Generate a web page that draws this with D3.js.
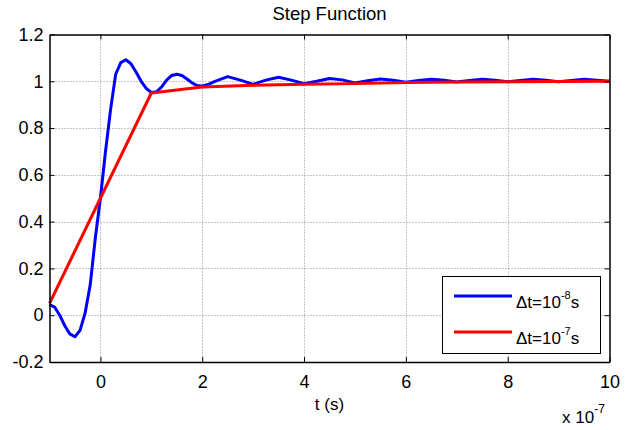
<!DOCTYPE html>
<html>
<head>
<meta charset="utf-8">
<script src="https://cdn.jsdelivr.net/npm/d3@7"></script>
<style>
  body { margin: 0; background: #fff; }
  #chart { width: 641px; height: 430px; }
  text { font-family: "Liberation Sans", Arial, sans-serif; fill: #000; }
</style>
</head>
<body>
<div id="chart"></div>
<script>
// time in units of 1e-7 s
var blueT = [-1.0, -0.9, -0.8, -0.7, -0.6, -0.5, -0.4, -0.3, -0.2, -0.1,
             0.0, 0.1, 0.2, 0.3, 0.4, 0.5, 0.6, 0.7, 0.8, 0.9,
             1.0, 1.1, 1.2, 1.3, 1.4, 1.5, 1.6, 1.7, 1.8, 1.9,
             2.0, 2.1, 2.25, 2.5, 2.75, 3.0, 3.25, 3.5, 3.75, 4.0,
             4.25, 4.5, 4.75, 5.0, 5.25, 5.5, 5.75, 6.0, 6.25, 6.5,
             6.75, 7.0, 7.25, 7.5, 7.75, 8.0, 8.25, 8.5, 8.75, 9.0,
             9.25, 9.5, 9.75, 10.0];
var blueV = [0.045, 0.035, 0.0, -0.045, -0.08, -0.092, -0.065, 0.01, 0.13, 0.33,
             0.50, 0.70, 0.88, 1.03, 1.08, 1.092, 1.075, 1.04, 1.0, 0.97,
             0.952, 0.955, 0.975, 1.005, 1.025, 1.03, 1.025, 1.01, 0.993, 0.982,
             0.98, 0.985, 1.0, 1.02, 1.005, 0.987, 1.005, 1.017, 1.005, 0.99,
             1.0, 1.012, 1.006, 0.993, 1.002, 1.01, 1.004, 0.996, 1.003, 1.009,
             1.004, 0.997, 1.003, 1.009, 1.004, 0.998, 1.003, 1.009, 1.004, 0.998,
             1.003, 1.009, 1.004, 1.0];
var redT = [-1, 0, 1, 2, 3, 4, 5, 6, 7, 8, 9, 10];
var redV = [0.05, 0.5, 0.95, 0.976, 0.983, 0.987, 0.99, 0.995, 0.997, 0.998, 0.999, 1.0];

var xTicks = [0, 2, 4, 6, 8, 10];
var xTickLabels = ["0", "2", "4", "6", "8", "10"];
var yTicks = [-0.2, 0, 0.2, 0.4, 0.6, 0.8, 1, 1.2];
var yTickLabels = ["-0.2", "0", "0.2", "0.4", "0.6", "0.8", "1", "1.2"];

var seriesNames = ["8", "7"];   // exponents in legend
var seriesColors = ["#0000ff", "#ff0000"];

function init() {
    var container = d3.select("#chart");
    var w = 641, h = 430;
    var svg = container.append("svg").attr("width", w).attr("height", h);

    var left = 49.5, right = 609.5, top = 34.5, bottom = 362;

    var x = d3.scaleLinear().domain([-1, 10]).range([left, right]);
    var y = d3.scaleLinear().domain([-0.2, 1.2]).range([bottom, top]);

    // grid
    var grid = svg.append("g")
        .attr("stroke", "#8c8c8c")
        .attr("stroke-width", 1)
        .attr("stroke-dasharray", "1,2");
    grid.selectAll(".gx").data(xTicks.slice(0, -1)).enter().append("line")
        .attr("x1", d => Math.round(x(d)) + 0.5).attr("x2", d => Math.round(x(d)) + 0.5)
        .attr("y1", top).attr("y2", bottom);
    grid.selectAll(".gy").data(yTicks.slice(1, -1)).enter().append("line")
        .attr("y1", d => Math.round(y(d)) + 0.5).attr("y2", d => Math.round(y(d)) + 0.5)
        .attr("x1", left).attr("x2", right);

    // lines
    var line = d3.line().x(d => x(d[0])).y(d => y(d[1]));
    var blue = blueT.map((t, i) => [t, blueV[i]]);
    var red = redT.map((t, i) => [t, redV[i]]);
    svg.append("path").datum(blue)
        .attr("fill", "none").attr("stroke", seriesColors[0])
        .attr("stroke-width", 3).attr("stroke-linejoin", "round")
        .attr("d", line);
    svg.append("path").datum(red)
        .attr("fill", "none").attr("stroke", seriesColors[1])
        .attr("stroke-width", 3).attr("stroke-linejoin", "round")
        .attr("d", line);

    // axes with inward ticks
    var xAxis = d3.axisBottom(x).tickValues(xTicks)
        .tickFormat((d, i) => xTickLabels[i]).tickSizeInner(-5).tickSizeOuter(0).tickPadding(13);
    var yAxis = d3.axisLeft(y).tickValues(yTicks)
        .tickFormat((d, i) => yTickLabels[i]).tickSizeInner(-5).tickSizeOuter(0).tickPadding(6);
    var xTop = d3.axisTop(x).tickValues(xTicks).tickFormat("").tickSizeInner(-5).tickSizeOuter(0);
    var yRight = d3.axisRight(y).tickValues(yTicks).tickFormat("").tickSizeInner(-5).tickSizeOuter(0);

    var gx = svg.append("g").attr("transform", "translate(0," + bottom + ")").call(xAxis);
    var gy = svg.append("g").attr("transform", "translate(" + left + ",0)").call(yAxis);
    var gxt = svg.append("g").attr("transform", "translate(0," + top + ")").call(xTop);
    var gyr = svg.append("g").attr("transform", "translate(" + right + ",0)").call(yRight);

    [gx, gy, gxt, gyr].forEach(function(g) {
        g.select(".domain").attr("stroke", "#000").attr("stroke-width", 1.5);
        g.selectAll(".tick line").attr("stroke", "#000").attr("stroke-width", 1);
        g.selectAll("text").style("font-family", "Liberation Sans, Arial, sans-serif")
            .style("font-size", "18px").attr("fill", "#000");
    });

    // title and labels
    svg.append("text").attr("x", (left + right) / 2).attr("y", 20)
        .attr("text-anchor", "middle").style("font-size", "18.5px").text("Step Function");
    svg.append("text").attr("x", (left + right) / 2).attr("y", 410)
        .attr("text-anchor", "middle").style("font-size", "17px").text("t (s)");
    var ex = svg.append("text").attr("x", 562).attr("y", 423).style("font-size", "17px");
    ex.append("tspan").text("x 10");
    ex.append("tspan").attr("dy", -10).style("font-size", "12px").text("-7");

    // legend
    var lg = svg.append("g");
    lg.append("rect").attr("x", 442.5).attr("y", 276.5).attr("width", 158).attr("height", 77)
        .attr("fill", "#fff").attr("stroke", "#000").attr("stroke-width", 1);
    var ly = [296, 332];
    seriesNames.forEach(function(n, i) {
        lg.append("line").attr("x1", 454).attr("x2", 512)
            .attr("y1", ly[i]).attr("y2", ly[i])
            .attr("stroke", seriesColors[i]).attr("stroke-width", 3);
        var t = lg.append("text").attr("x", 516).attr("y", ly[i] + 12).style("font-size", "17px");
        t.append("tspan").text("\u0394t=10");
        t.append("tspan").attr("dy", -9).style("font-size", "11px").text("-" + n);
        t.append("tspan").attr("dy", 9).text("s");
    });
}

window.onload = init;
</script>
</body>
</html>
